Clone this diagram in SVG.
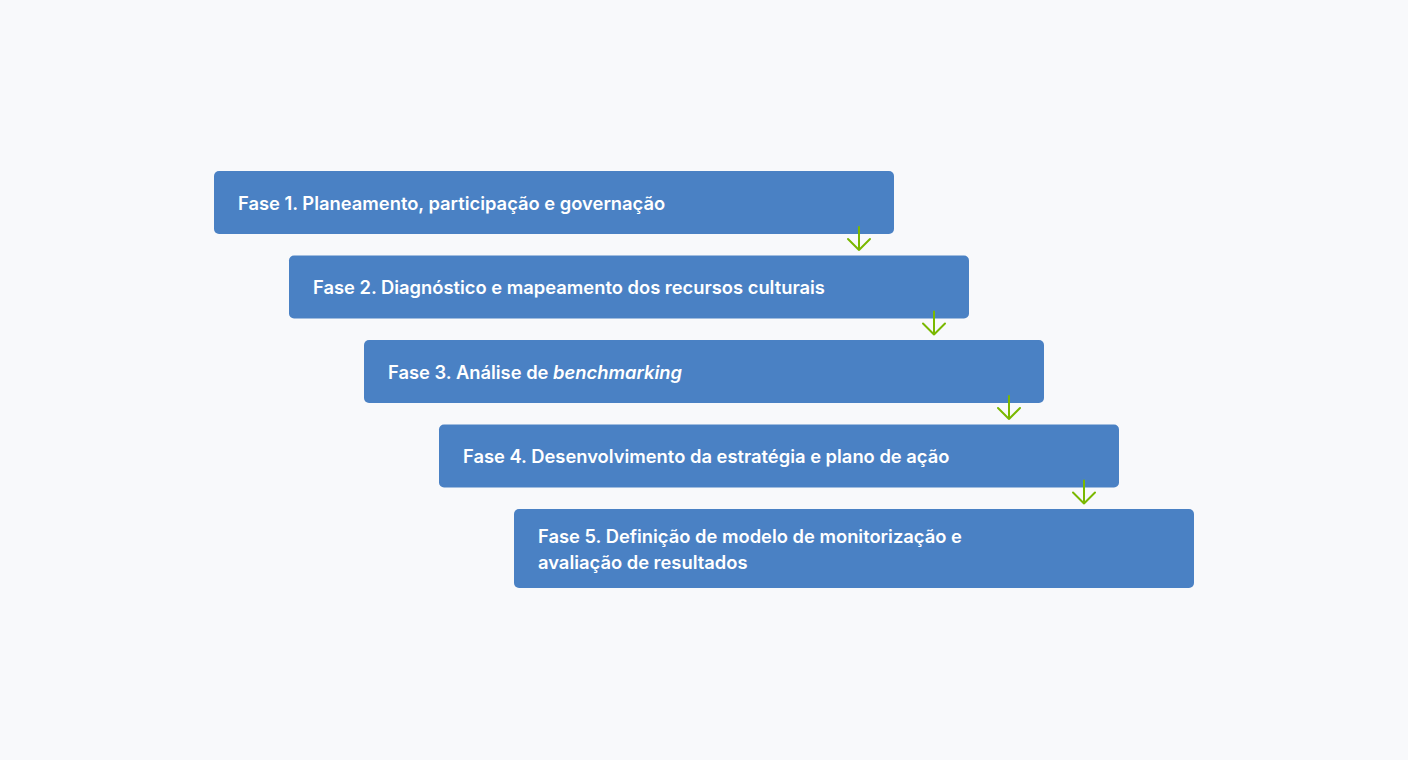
<svg xmlns="http://www.w3.org/2000/svg" width="1408" height="760" viewBox="0 0 1408 760">
<style>
.box{fill:#4a81c4;}
.t{font-family:Inter,"Noto Sans",sans-serif;font-weight:600;font-size:18.35px;fill:#ffffff;}
.arr{stroke:#7ab800;stroke-width:2;fill:none;stroke-linecap:round;stroke-linejoin:round;}
</style>
<rect width="1408" height="760" fill="#f8f9fb"/>
<g id="fase1"><rect class="box" x="214" y="171" width="680" height="63" rx="5"/><text class="t" x="238" y="209.5">Fase 1. Planeamento, participação e governação</text></g>
<g id="fase2"><rect class="box" x="289" y="255.5" width="680" height="63" rx="5"/><text class="t" x="313" y="294">Fase 2. Diagnóstico e mapeamento dos recursos culturais</text></g>
<g id="fase3"><rect class="box" x="364" y="340" width="680" height="63" rx="5"/><text class="t" x="388" y="378.5">Fase 3. Análise de <tspan font-style="italic">benchmarking</tspan></text></g>
<g id="fase4"><rect class="box" x="439" y="424.5" width="680" height="63" rx="5"/><text class="t" x="463" y="463">Fase 4. Desenvolvimento da estratégia e plano de ação</text></g>
<g id="fase5"><rect class="box" x="514" y="509" width="680" height="79" rx="5"/><text class="t" x="538" y="542.5">Fase 5. Definição de modelo de monitorização e</text><text class="t" x="538" y="568.5">avaliação de resultados</text></g>
<g id="connectors">
<path class="arr" d="M859 227V250M848 239L859 250L870 239"/>
<path class="arr" d="M934 311.5V334.5M923 323.5L934 334.5L945 323.5"/>
<path class="arr" d="M1009 396V419M998 408L1009 419L1020 408"/>
<path class="arr" d="M1084 480.5V503.5M1073 492.5L1084 503.5L1095 492.5"/>
</g>
</svg>
